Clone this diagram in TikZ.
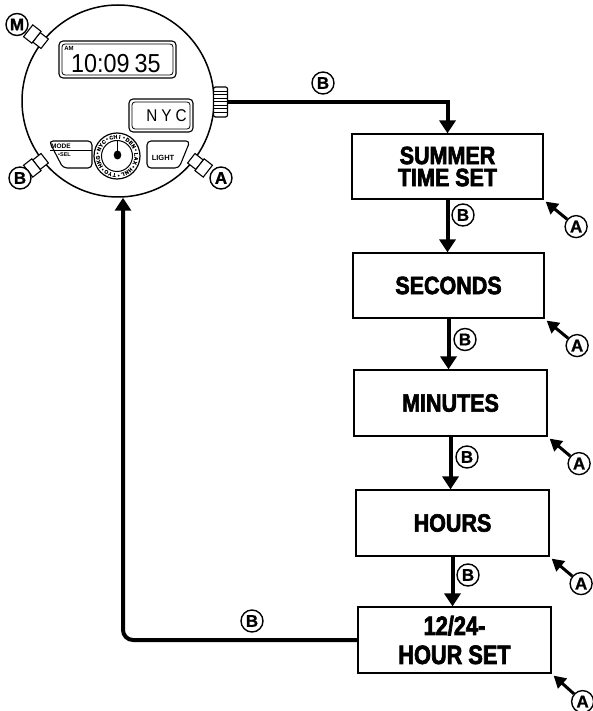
\documentclass[tikz,border=0pt]{standalone}
\usepackage{fontspec}
\setmainfont{Liberation Sans}
\newfontfamily\boxfont[FakeStretch=0.86,FakeBold=2.5]{Liberation Sans Bold}
\newfontfamily\boxfontb[FakeStretch=0.82,FakeBold=2.5]{Liberation Sans Bold}
\newfontfamily\labfont[FakeBold=1]{Liberation Sans Bold}
\newfontfamily\lcdfont[FakeStretch=0.9]{Liberation Sans}
\usetikzlibrary{arrows.meta,calc}
\begin{document}
\begin{tikzpicture}[x=1pt,y=-1pt,
  stepbox/.style={draw,line width=1.2pt,minimum width=191pt,minimum height=65pt,inner sep=0pt,align=center,
    font=\boxfont\fontsize{25}{22}\selectfont},
  lab/.style={circle,draw,line width=1.4pt,minimum size=22pt,inner sep=0pt,fill=white,
    font=\labfont\fontsize{17}{17}\selectfont},
  flow/.style={line width=4pt,-{Triangle[length=13pt,width=16pt]}},
  aarrow/.style={line width=3pt,-{Triangle[length=12pt,width=13pt]}},
  btn/.style={draw,line width=1.1pt,fill=white},
  lcd/.style={draw,line width=1.1pt,rounded corners=4pt},
]
\useasboundingbox (0,0) rectangle (592,711);

% ---------- watch ----------
\node[circle,draw,line width=1.5pt,minimum size=192pt,inner sep=0pt] (watch) at (118,101) {};

% side buttons
\foreach \ang in {142,218,-38}{
  \begin{scope}[shift={(118,101)},rotate=\ang]
    \draw[btn] (93,-6) rectangle (103.5,6);
    \draw[btn] (103.5,-7.5) rectangle (114,7.5);
  \end{scope}
}
\node[lab] (lm) at (17,24.5) {M};
\node[lab] (lb) at (20,178) {B};
\node[lab] (la) at (221,178) {A};

% crown
\node[draw,line width=1.2pt,rounded corners=2pt,fill=white,minimum width=14pt,minimum height=30pt,inner sep=0pt] (crown) at (220.5,102) {};
\foreach \yy in {91,94.5,...,114}{
  \draw[line width=0.6pt] (214,\yy) -- (227,\yy);
}

% top LCD
\draw[lcd] (59,41) rectangle (176,78);
\draw[lcd,line width=0.8pt,rounded corners=3pt] (62,44) rectangle (173,75);
\node[font=\bfseries\fontsize{6}{6}\selectfont,inner sep=0pt] (am) at (69,48) {AM};
\node[font=\lcdfont\fontsize{26}{26}\selectfont,anchor=base west,inner sep=0pt] (time) at (71,72.5) {10:09\hspace{5pt}35};

% NYC LCD
\draw[lcd] (129,99) rectangle (193,132);
\draw[lcd,line width=0.8pt,rounded corners=3pt] (132,102) rectangle (190,129);
\node[font=\lcdfont\fontsize{17}{17}\selectfont,anchor=base,inner sep=0pt] (nyc) at (166.5,122) {N\hspace{4pt}Y\hspace{4pt}C};

% MODE button
\draw[line width=1.1pt,rounded corners=4pt] (49,141) -- (92,141) -- (92,168) -- (63,168) -- cycle;
\draw[line width=0.8pt] (50,150) -- (92,150);
\node[font=\bfseries\fontsize{6.5}{6.5}\selectfont,anchor=base west,inner sep=0pt] (mode) at (51,149) {MODE};
\node[font=\bfseries\fontsize{5.5}{5.5}\selectfont,anchor=base west,inner sep=0pt] (sel) at (58,157) {\textbullet SEL};

% LIGHT button
\draw[line width=1.1pt,rounded corners=4pt] (147,141) -- (190,141) -- (179,168) -- (147,168) -- cycle;
\node[font=\bfseries\fontsize{7.5}{7.5}\selectfont,inner sep=0pt] (light) at (163,158) {LIGHT};

% dial
\coordinate (dial) at (117,156);
\draw[line width=1.2pt] (dial) circle [radius=23];
\draw[line width=1pt] (dial) circle [radius=15.5];
\foreach \ch [count=\i] in {N,Y,C,\textbullet,C,H,I,\textbullet,D,E,N,\textbullet,L,A,X,\textbullet,H,N,L,\textbullet,T,Y,O,\textbullet,H,K,G,\textbullet}{
  \pgfmathsetmacro{\a}{172-\i*12.857}
  \pgfmathsetmacro{\dx}{19.2*cos(\a)}
  \pgfmathsetmacro{\dy}{-19.2*sin(\a)}
  \node[font=\labfont\fontsize{5.2}{5.2}\selectfont,inner sep=0pt,rotate=\a-90]
    at ($(dial)+(\dx,\dy)$) {\ch};
}
\draw[line width=1.6pt] (117.5,141) -- (117.5,152);
\fill (117.5,155) ellipse [x radius=3.8, y radius=4.5];

% ---------- flow boxes ----------
\node[stepbox] (b1) at (447.5,166.5) {SUMMER\\TIME SET};
\node[stepbox] (b2) at (448.5,285.5) {SECONDS};
\node[stepbox,minimum width=193pt,minimum height=66pt] (b3) at (450.5,403) {MINUTES};
\node[stepbox,minimum width=193pt,minimum height=66pt] (b4) at (452.5,523) {HOURS};
\node[stepbox,minimum width=193pt,minimum height=66pt,font=\boxfontb\fontsize{26.5}{29}\selectfont] (b5) at (454.5,640) {12/24-\\HOUR SET};

% connectors
\draw[flow] (crown.east) -| (b1.north);
\draw[flow] (b1.south) -- (b1.south |- b2.north);
\draw[flow] (b2.south) -- (b2.south |- b3.north);
\draw[flow] (b3.south) -- (b3.south |- b4.north);
\draw[flow] (b4.south) -- (b4.south |- b5.north);
\draw[flow,rounded corners=10pt] (b5.west) -| ($(watch.south)+(5,0)$);

% B labels
\node[lab] (bw) at (323,83) {B};
\node[lab] (bl1) at (463,215) {B};
\node[lab] (bl2) at (465,339.5) {B};
\node[lab] (bl3) at (467,457) {B};
\node[lab] (bl4) at (468,575) {B};
\node[lab] (blr) at (252,621) {B};

% A labels with arrows
\node[lab] (a1) at ($(b1.south east)+(32.5,27)$) {A};
\node[lab] (a2) at ($(b2.south east)+(32.5,27)$) {A};
\node[lab] (a3) at ($(b3.south east)+(31.5,27)$) {A};
\node[lab] (a4) at ($(b4.south east)+(31.5,27)$) {A};
\node[lab] (a5) at ($(b5.south east)+(31,28)$) {A};
\draw[aarrow] (a1) -- ($(b1.south east)+(2,2)$);
\draw[aarrow] (a2) -- ($(b2.south east)+(2,2)$);
\draw[aarrow] (a3) -- ($(b3.south east)+(2,2)$);
\draw[aarrow] (a4) -- ($(b4.south east)+(2,2)$);
\draw[aarrow] (a5) -- ($(b5.south east)+(2,2)$);
\end{tikzpicture}
\end{document}
